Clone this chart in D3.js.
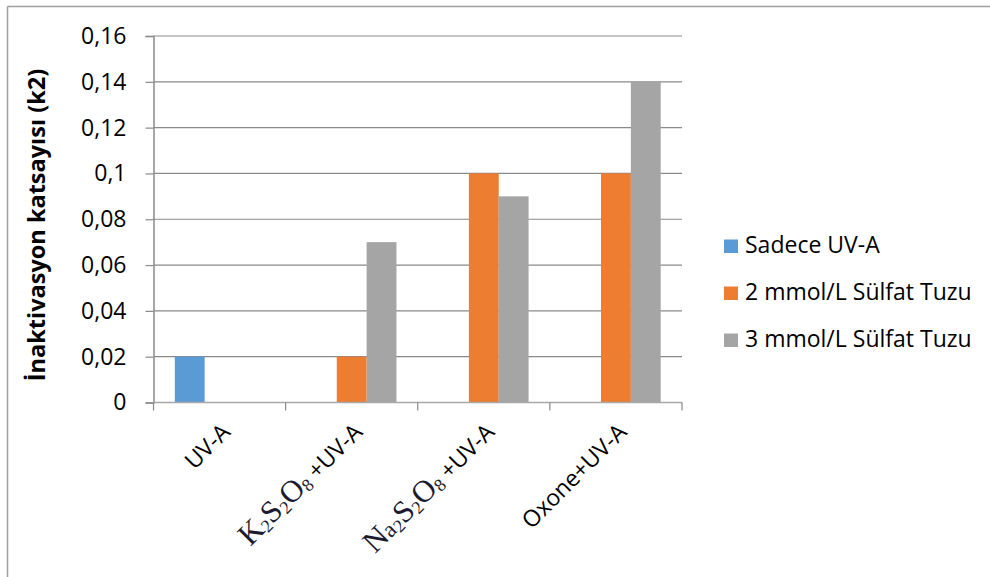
<!DOCTYPE html>
<html><head><meta charset="utf-8">
<script src="https://cdn.jsdelivr.net/npm/d3@7"></script>
<style>body{margin:0;background:#fff}svg{display:block}</style>
</head><body>
<svg id="c" width="990" height="577"></svg>
<script>
const categories = ["UV-A", "K2S2O8+UV-A", "Na2S2O8+UV-A", "Oxone+UV-A"];
const seriesNames = ["Sadece UV-A", "2 mmol/L Sülfat Tuzu", "3 mmol/L Sülfat Tuzu"];
const sadece = [0.02, null, null, null];
const mmol2 = [null, 0.02, 0.10, 0.10];
const mmol3 = [null, 0.07, 0.09, 0.14];
const yTicks = [0, 0.02, 0.04, 0.06, 0.08, 0.1, 0.12, 0.14, 0.16];
const yTickLabels = ["0", "0,02", "0,04", "0,06", "0,08", "0,1", "0,12", "0,14", "0,16"];
const colors = ["#5B9BD5", "#ED7D31", "#A5A5A5"];
const yTitle = "İnaktivasyon katsayısı (k2)";

const svg = d3.select("#c");
const font = "'Open Sans', sans-serif";
const L = 153.5, R = 682, T = 36, B = 402.5;

// outer border
svg.append("line").attr("x1",7.5).attr("x2",990).attr("y1",6.5).attr("y2",6.5).attr("stroke","#a0a0a0").attr("stroke-width",1.5);
svg.append("line").attr("x1",7.5).attr("x2",7.5).attr("y1",6.5).attr("y2",577).attr("stroke","#a0a0a0").attr("stroke-width",1.5);

const x0 = d3.scaleBand().domain(categories).range([L, R]).padding(0);
const gap = 21.3;
const x1 = d3.scaleBand().domain(seriesNames).range([gap, x0.bandwidth() - gap]).padding(0);
const y = d3.scaleLinear().domain([0, 0.16]).range([B, T]);

// gridlines
svg.append("g").selectAll("line").data(yTicks.slice(1)).join("line")
  .attr("x1", L).attr("x2", R).attr("y1", d => y(d)).attr("y2", d => y(d))
  .attr("stroke", "#8a8a8a").attr("stroke-width", 1.2);

// bars
const seriesData = [sadece, mmol2, mmol3];
seriesData.forEach((vals, si) => {
  svg.append("g").selectAll("rect").data(categories.map((c, i) => ({c, v: vals[i]})).filter(d => d.v != null))
    .join("rect")
    .attr("x", d => x0(d.c) + x1(seriesNames[si]))
    .attr("width", x1.bandwidth())
    .attr("y", d => y(d.v))
    .attr("height", d => y(0) - y(d.v))
    .attr("fill", colors[si]);
});

// y axis
const yAxis = d3.axisLeft(y).tickValues(yTicks).tickSize(8).tickPadding(19)
  .tickFormat((d, i) => yTickLabels[i]);
const gy = svg.append("g").attr("transform", `translate(${L},0)`).call(yAxis);
gy.select(".domain").attr("stroke", "#8a8a8a").attr("stroke-width", 1.5);
gy.selectAll(".tick line").attr("stroke", "#8a8a8a").attr("stroke-width", 1.2);
gy.selectAll(".tick text").attr("font-family", font).attr("font-size", 23).attr("fill", "#000");

// x axis
const xTickPos = categories.map(c => x0(c)).concat([R]);
svg.append("line").attr("x1", L).attr("x2", R).attr("y1", B).attr("y2", B).attr("stroke", "#a8a8a8").attr("stroke-width", 1.5);
svg.append("g").selectAll("line").data(xTickPos).join("line")
  .attr("x1", d => d).attr("x2", d => d).attr("y1", B).attr("y2", B + 8)
  .attr("stroke", "#8a8a8a").attr("stroke-width", 1.2);

// x labels
const serif = "'Liberation Serif', 'DejaVu Serif', serif";
function chem(t, parts) {
  parts.forEach(p => {
    const ts = t.append("tspan").text(p.t);
    if (p.serif) ts.attr("font-family", serif).attr("fill", "#1a1a30");
    if (p.sub) ts.attr("font-size", 18).attr("dy", p.dy);
    else if (p.dy) ts.attr("dy", p.dy);
    if (p.size) ts.attr("font-size", p.size);
  });
}
const labelParts = [
  [{t: "UV-A"}],
  [{t: "K", serif: true, size: 31}, {t: "2", serif: true, sub: true, dy: 3}, {t: "S", serif: true, size: 31, dy: -3}, {t: "2", serif: true, sub: true, dy: 3}, {t: "O", serif: true, size: 31, dy: -3}, {t: "8", serif: true, sub: true, dy: 3}, {t: " +UV-A", dy: -3}],
  [{t: "N", serif: true, size: 31}, {t: "a", serif: true, size: 23}, {t: "2", serif: true, sub: true, dy: 3}, {t: "S", serif: true, size: 31, dy: -3}, {t: "2", serif: true, sub: true, dy: 3}, {t: "O", serif: true, size: 31, dy: -3}, {t: "8", serif: true, sub: true, dy: 3}, {t: " +UV-A", dy: -3}],
  [{t: "Oxone+UV-A"}]
];
categories.forEach((c, i) => {
  const cx = x0(c) + x0.bandwidth() / 2 + 12;
  const t = svg.append("text")
    .attr("transform", `translate(${cx},${B + 31}) rotate(-45)`)
    .attr("text-anchor", "end")
    .attr("font-family", font).attr("font-size", 23).attr("fill", "#000");
  chem(t, labelParts[i]);
});

// y title
svg.append("text").attr("transform", `translate(45,225) rotate(-90)`)
  .attr("text-anchor", "middle").attr("font-family", font).attr("font-weight", "bold")
  .attr("font-size", 23.5).text(yTitle);

// legend
const lg = svg.append("g").selectAll("g").data(seriesNames).join("g")
  .attr("transform", (d, i) => `translate(724,${253 + i * 47})`);
lg.append("rect").attr("x", 0).attr("y", -13.5).attr("width", 14).attr("height", 13.5).attr("fill", (d, i) => colors[i]);
lg.append("text").attr("x", 21).attr("y", 0)
  .attr("font-family", font).attr("font-size", 23).attr("fill", "#000").text(d => d);
</script>
</body></html>
